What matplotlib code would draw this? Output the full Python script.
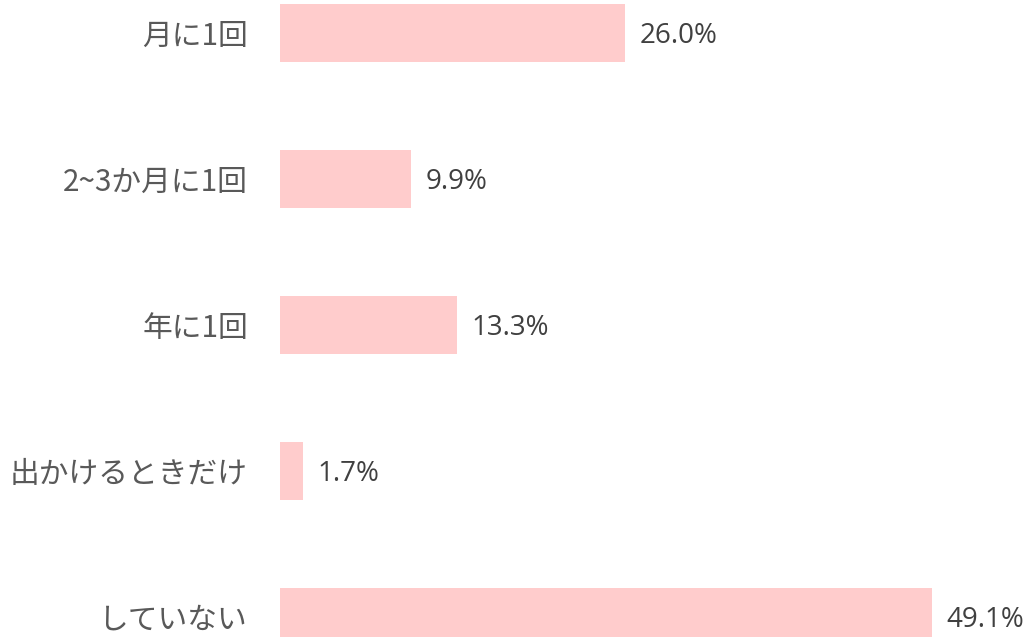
import matplotlib.pyplot as plt

plt.rcParams['font.family'] = ['Noto Sans CJK JP', 'DejaVu Sans']

# Daten
categories = ['月に1回', '2~3か月に1回', '年に1回', '出かけるときだけ', 'していない']
values = [26.0, 9.9, 13.3, 1.7, 49.1]
value_labels = ['26.0%', '9.9%', '13.3%', '1.7%', '49.1%']

fig = plt.figure(figsize=(10.33, 6.37), dpi=100)
# Achse in Pixeln: links 280, Balkenmitte 33 + 146*i
ax = fig.add_axes([280 / 1033, (637 - 690) / 637, 753 / 1033, 730 / 637])

pos = list(range(len(categories)))
ax.barh(pos, values, height=0.4, color='#FFCCCC')
ax.set_xlim(0, 753 / 13.28)
ax.set_ylim(4.5, -0.5)

for p, v, t in zip(pos, values, value_labels):
    ax.text(v + 1.1, p + 0.02, t, va='center', ha='left', fontsize=20,
            color='#404040', family=['Open Sans', 'DejaVu Sans'])

ax.set_yticks(pos)
ax.set_yticklabels(categories, fontsize=21.4, color='#595959')
ax.tick_params(axis='y', length=0, pad=23)
ax.set_xticks([])
for s in ax.spines.values():
    s.set_visible(False)

fig.savefig('out.png', dpi=100)
